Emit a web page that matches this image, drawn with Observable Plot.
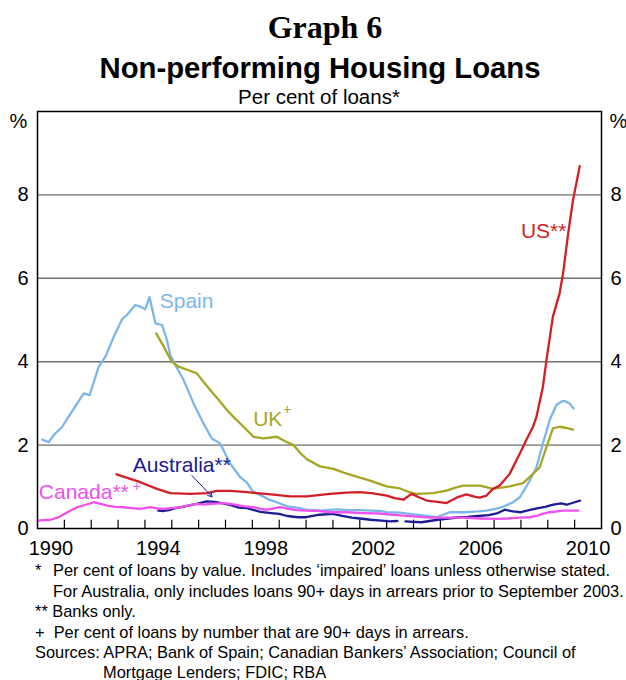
<!DOCTYPE html>
<html>
<head>
<meta charset="utf-8">
<script src="https://cdn.jsdelivr.net/npm/d3@7"></script>
<script src="https://cdn.jsdelivr.net/npm/@observablehq/plot@0.6"></script>
<style>
  html, body { margin: 0; padding: 0; background: #fff; }
  body { width: 626px; height: 680px; position: relative; overflow: hidden; font-family: "Liberation Sans", Arial, sans-serif; color: #000; }
  .t { position: absolute; left: 6px; width: 626px; text-align: center; white-space: nowrap; }
  #chart { position: absolute; left: 0; top: 104px; }
  .fn { position: absolute; font-size: 16.4px; white-space: nowrap; line-height: 20px; }
</style>
</head>
<body>
<div class="t" style="top:9px;left:12px;font-family:'Liberation Serif','Times New Roman',serif;font-weight:bold;font-size:32px;line-height:36px;">Graph 6</div>
<div class="t" style="top:51px;left:7px;font-weight:bold;font-size:29.3px;line-height:34px;">Non-performing Housing Loans</div>
<div class="t" style="top:85px;font-size:20.5px;line-height:24px;">Per cent of loans*</div>
<div id="chart"></div>
<div class="fn" style="left:35px;top:560px;">*</div>
<div class="fn" style="left:53px;top:560px;">Per cent of loans by value. Includes ‘impaired’ loans unless otherwise stated.</div>
<div class="fn" style="left:53px;top:581px;">For Australia, only includes loans 90+ days in arrears prior to September 2003.</div>
<div class="fn" style="left:35px;top:601px;">** Banks only.</div>
<div class="fn" style="left:35px;top:622px;">+&nbsp; Per cent of loans by number that are 90+ days in arrears.</div>
<div class="fn" style="left:35px;top:642px;">Sources: APRA; Bank of Spain; Canadian Bankers’ Association; Council of</div>
<div class="fn" style="left:103px;top:662px;">Mortgage Lenders; FDIC; RBA</div>
<script>
// ---- Data (year, per cent) ----
const spain = [[1990.17,2.13],[1990.42,2.07],[1990.6,2.24],[1990.92,2.44],[1991.16,2.68],[1991.48,3.0],[1991.72,3.24],[1991.94,3.2],[1992.16,3.64],[1992.28,3.88],[1992.53,4.12],[1992.84,4.6],[1993.15,5.02],[1993.33,5.12],[1993.64,5.36],[1993.83,5.32],[1994.01,5.26],[1994.17,5.55],[1994.39,4.92],[1994.64,4.88],[1994.82,4.52],[1994.94,4.16],[1995.13,3.92],[1995.44,3.56],[1995.81,3.0],[1996.18,2.52],[1996.49,2.16],[1996.8,2.04],[1997.17,1.56],[1997.55,1.23],[1997.8,1.1],[1998.0,0.9],[1998.3,0.8],[1998.6,0.7],[1998.91,0.63],[1999.3,0.53],[1999.65,0.5],[2000.0,0.45],[2000.52,0.43],[2001.14,0.46],[2001.6,0.44],[2002.0,0.44],[2002.4,0.43],[2002.75,0.42],[2003.0,0.39],[2003.5,0.38],[2004.0,0.34],[2004.5,0.3],[2004.86,0.27],[2005.1,0.33],[2005.35,0.39],[2005.97,0.39],[2006.4,0.41],[2006.72,0.43],[2007.05,0.47],[2007.33,0.52],[2007.71,0.63],[2007.96,0.75],[2008.15,0.95],[2008.33,1.15],[2008.58,1.47],[2008.82,2.04],[2009.07,2.6],[2009.32,2.96],[2009.5,3.04],[2009.63,3.06],[2009.81,3.0],[2009.96,2.88]];
const uk = [[1994.42,4.68],[1994.7,4.36],[1995.0,4.0],[1995.25,3.88],[1995.6,3.8],[1995.93,3.72],[1996.2,3.5],[1996.43,3.32],[1996.75,3.08],[1997.05,2.84],[1997.35,2.64],[1997.67,2.44],[1998.04,2.2],[1998.41,2.16],[1998.91,2.2],[1999.2,2.1],[1999.53,2.0],[1999.8,1.8],[2000.03,1.66],[2000.52,1.49],[2001.02,1.43],[2001.4,1.34],[2001.76,1.27],[2002.38,1.15],[2003.0,1.01],[2003.5,0.96],[2003.8,0.88],[2004.11,0.83],[2004.73,0.85],[2005.23,0.91],[2005.5,0.97],[2005.85,1.03],[2006.47,1.03],[2006.96,0.95],[2007.58,1.01],[2008.08,1.09],[2008.45,1.31],[2008.7,1.47],[2008.95,1.95],[2009.19,2.4],[2009.44,2.44],[2009.7,2.41],[2009.94,2.37]];
const us = [[1992.94,1.3],[1993.4,1.2],[1993.83,1.11],[1994.45,0.95],[1994.94,0.85],[1995.69,0.83],[1996.31,0.85],[1996.68,0.9],[1997.17,0.9],[1997.8,0.87],[1998.79,0.81],[1999.4,0.77],[2000.03,0.77],[2000.89,0.83],[2001.5,0.86],[2002.0,0.87],[2002.5,0.84],[2003.0,0.79],[2003.3,0.73],[2003.62,0.69],[2003.93,0.83],[2004.2,0.75],[2004.49,0.67],[2004.9,0.64],[2005.23,0.61],[2005.6,0.74],[2005.97,0.82],[2006.3,0.76],[2006.47,0.74],[2006.72,0.79],[2006.96,0.95],[2007.21,1.03],[2007.58,1.31],[2007.96,1.8],[2008.2,2.12],[2008.45,2.44],[2008.58,2.68],[2008.82,3.4],[2008.95,4.04],[2009.19,5.08],[2009.44,5.64],[2009.57,6.12],[2009.76,7.08],[2009.94,7.88],[2010.19,8.69]];
const australiaPre = [[1994.5,0.43],[1994.7,0.42],[1994.9,0.44],[1995.1,0.48],[1995.4,0.52],[1995.7,0.56],[1996.0,0.6],[1996.3,0.65],[1996.6,0.64],[1996.9,0.6],[1997.2,0.56],[1997.5,0.5],[1997.8,0.49],[1998.0,0.45],[1998.3,0.4],[1998.7,0.37],[1999.0,0.35],[1999.3,0.3],[1999.7,0.27],[2000.0,0.27],[2000.5,0.33],[2001.0,0.35],[2001.3,0.31],[2001.7,0.26],[2002.0,0.24],[2002.4,0.21],[2002.8,0.19],[2003.1,0.17],[2003.4,0.18]];
const australiaPost = [[2003.7,0.17],[2004.0,0.16],[2004.3,0.15],[2004.6,0.18],[2004.9,0.21],[2005.3,0.24],[2005.7,0.27],[2006.0,0.28],[2006.4,0.3],[2006.8,0.32],[2007.1,0.36],[2007.4,0.45],[2007.7,0.41],[2008.0,0.39],[2008.3,0.44],[2008.6,0.48],[2008.9,0.52],[2009.2,0.57],[2009.5,0.6],[2009.7,0.57],[2010.0,0.63],[2010.2,0.67]];
const canada = [[1990.0,0.19],[1990.48,0.21],[1990.75,0.26],[1990.98,0.34],[1991.2,0.42],[1991.48,0.51],[1991.8,0.57],[1992.1,0.63],[1992.35,0.59],[1992.6,0.55],[1992.9,0.52],[1993.2,0.51],[1993.5,0.49],[1993.83,0.47],[1994.2,0.51],[1994.45,0.48],[1994.7,0.47],[1995.0,0.49],[1995.32,0.51],[1995.6,0.55],[1995.94,0.59],[1996.2,0.57],[1996.43,0.59],[1996.93,0.61],[1997.3,0.58],[1997.7,0.53],[1998.04,0.51],[1998.3,0.47],[1998.54,0.45],[1999.03,0.51],[1999.35,0.47],[1999.65,0.44],[2000.0,0.43],[2000.52,0.42],[2000.89,0.39],[2001.5,0.39],[2002.13,0.37],[2002.7,0.36],[2003.37,0.32],[2004.0,0.29],[2004.61,0.26],[2005.2,0.26],[2005.85,0.26],[2006.5,0.24],[2007.09,0.23],[2007.5,0.24],[2007.96,0.26],[2008.3,0.27],[2008.58,0.3],[2008.8,0.35],[2009.07,0.39],[2009.57,0.43],[2010.13,0.43]];

// ---- Axes / labels ----
const yTicks = [0, 2, 4, 6, 8];
const gridValues = [2, 4, 6, 8];
const yearTicks = d3.range(1991, 2011);
const yearLabels = [1990, 1994, 1998, 2002, 2006, 2010];
const seriesLabels = [
  {name: "Spain", x: 1994.55, y: 5.45, color: "#7db6ea"},
  {name: "UK", x: 1998.03, y: 2.62, color: "#a5a624"},
  {name: "Australia**", x: 1993.55, y: 1.52, color: "#1c1c96"},
  {name: "Canada**", x: 1990.05, y: 0.87, color: "#f050ee"},
  {name: "US**", x: 2008.0, y: 7.12, color: "#d21f26"}
];
const superLabels = [
  {name: "+", x: 1999.15, y: 2.86, color: "#a5a624"},
  {name: "+", x: 1993.55, y: 1.0, color: "#f050ee"}
];
const arrowSpec = [{x1: 1995.75, y1: 1.27, x2: 1996.5, y2: 0.76}];

const toObj = arr => arr.map(([x, y]) => ({x, y}));

const chart = Plot.plot({
  width: 626,
  height: 456,
  marginTop: 7,
  marginBottom: 32,
  marginLeft: 37,
  marginRight: 25,
  style: {fontFamily: "'Liberation Sans', Arial, sans-serif", fontSize: "20px", background: "#fff", color: "#000"},
  x: {domain: [1990, 2011], axis: null},
  y: {domain: [0, 10], axis: null},
  marks: [
    Plot.ruleY(gridValues, {stroke: "#6e6e6e", strokeWidth: 1.4}),
    Plot.ruleX(yearTicks, {x: d => d, y1: 0, y2: 0.2, stroke: "#000", strokeWidth: 1.2}),
    Plot.axisY({anchor: "left", ticks: yTicks, tickSize: 0, tickPadding: 9, fontSize: 20, tickFormat: d => String(d)}),
    Plot.axisY({anchor: "right", ticks: yTicks, tickSize: 0, tickPadding: 9, fontSize: 20, tickFormat: d => String(d)}),
    Plot.text(["%"], {frameAnchor: "top-left", dx: -19, dy: 2, fontSize: 20, textAnchor: "middle"}),
    Plot.text(["%"], {frameAnchor: "top-right", dx: 17, dy: 2, fontSize: 20, textAnchor: "middle"}),
    Plot.text(yearLabels, {x: d => d + 0.5, y: 0, dy: 20, text: d => String(d), fontSize: 20}),
    Plot.line(toObj(spain), {x: "x", y: "y", stroke: "#7db6ea", strokeWidth: 2.3}),
    Plot.line(toObj(uk), {x: "x", y: "y", stroke: "#a5a624", strokeWidth: 2.3}),
    Plot.line(toObj(us), {x: "x", y: "y", stroke: "#d21f26", strokeWidth: 2.3}),
    Plot.line(toObj(australiaPre), {x: "x", y: "y", stroke: "#1c1c96", strokeWidth: 2.3}),
    Plot.line(toObj(australiaPost), {x: "x", y: "y", stroke: "#1c1c96", strokeWidth: 2.3}),
    Plot.line(toObj(canada), {x: "x", y: "y", stroke: "#f050ee", strokeWidth: 2.3}),
    Plot.arrow(arrowSpec, {x1: "x1", y1: "y1", x2: "x2", y2: "y2", stroke: "#1c1c96", strokeWidth: 1, headLength: 7, bend: 0}),
    Plot.text(seriesLabels, {x: "x", y: "y", text: "name", fill: "color", textAnchor: "start", fontSize: 21}),
    Plot.text(superLabels, {x: "x", y: "y", text: "name", fill: "color", textAnchor: "start", fontSize: 14}),
    Plot.frame({stroke: "#000", strokeWidth: 1.5})
  ]
});
document.getElementById("chart").appendChild(chart);
</script>
</body>
</html>
